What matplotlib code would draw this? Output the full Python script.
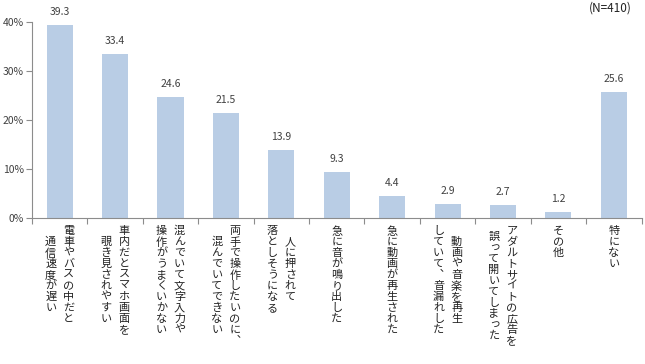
import matplotlib

matplotlib.use("Agg")
import matplotlib.pyplot as plt

plt.rcParams["font.family"] = ["Noto Sans CJK JP", "DejaVu Sans"]

# Category labels: each entry is a list of vertical columns, right column first
labels = [
    ["電車やバスの中だと", "通信速度が遅い"],
    ["車内だとスマホ画面を", "覗き見されやすい"],
    ["混んでいて文字入力や", "操作がうまくいかない"],
    ["両手で操作したいのに、", "混んでいてできない"],
    ["人に押されて", "落としそうになる"],
    ["急に音が鳴り出した"],
    ["急に動画が再生された"],
    ["動画や音楽を再生", "していて、音漏れした"],
    ["アダルトサイトの広告を", "誤って開いてしまった"],
    ["その他"],
    ["特にない"],
]
values = [39.3, 33.4, 24.6, 21.5, 13.9, 9.3, 4.4, 2.9, 2.7, 1.2, 25.6]
yticks = [0, 10, 20, 30, 40]

BAR = "#B9CDE5"
AXIS = "#8C8C8C"
TEXT = "#404040"

# vertical presentation forms for punctuation
VERT = {"、": "\ufe11", "。": "\ufe12"}

fig = plt.figure(figsize=(6.45, 3.64), dpi=100)
ax = fig.add_axes([0.0496, 0.401, 0.945, 0.539])

x = list(range(len(values)))
ax.bar(x, values, width=0.47, color=BAR, edgecolor="none")

for xi, v in zip(x, values):
    ax.annotate(f"{v}", xy=(xi, v), xytext=(0, 8), textcoords="offset pixels",
                ha="center", va="bottom", fontsize=7.5, color=TEXT)

ax.set_xlim(-0.5, len(values) - 0.5)
ax.set_ylim(0, 40)
ax.set_yticks(yticks)
ax.set_yticklabels([f"{t}%" for t in yticks], fontsize=7.5, color=TEXT)
ax.tick_params(axis="y", length=4, color=AXIS, width=0.8, pad=2)

ax.set_xticks([])
ax.set_xticks([i - 0.5 for i in range(len(values) + 1)], minor=True)
ax.tick_params(axis="x", which="minor", length=4, color=AXIS, width=0.8)

for side in ("top", "right"):
    ax.spines[side].set_visible(False)
for side in ("left", "bottom"):
    ax.spines[side].set_color(AXIS)
    ax.spines[side].set_linewidth(0.8)

# vertical (tategaki) category labels
CH = 11.0   # pixel advance per character
COLGAP = 18.0
for xi, cols in zip(x, labels):
    n = len(cols)
    longest = max(len(c) for c in cols)
    for j, col in enumerate(cols):
        dx = ((n - 1) / 2 - j) * COLGAP
        start = (longest - len(col)) / 2
        for k, ch in enumerate(col):
            ox, oy = dx, -8 - (start + k) * CH
            if ch in "っゃゅょ":
                ox += 1
                oy += 1
            ax.annotate(VERT.get(ch, ch), xy=(xi, 0), xycoords=("data", "axes fraction"),
                        xytext=(ox, oy), textcoords="offset pixels",
                        ha="center", va="top", fontsize=8, color="#222222",
                        annotation_clip=False)

fig.text(0.98, 0.995, "(N=410)", ha="right", va="top", fontsize=8.5, color="#222222")

fig.savefig("out.png", dpi=100)
